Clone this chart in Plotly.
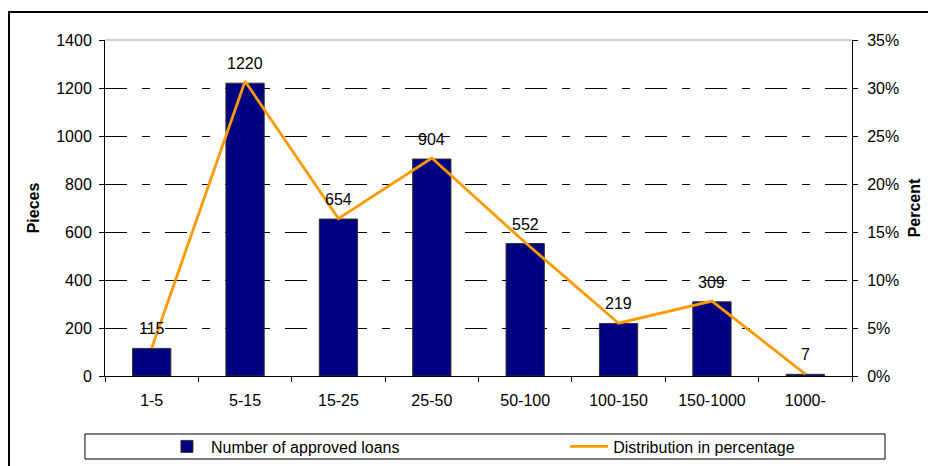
import plotly.graph_objects as go

# loan size classes and values
categories = ['1-5', '5-15', '15-25', '25-50', '50-100', '100-150', '150-1000', '1000-']
approved_loans = [115, 1220, 654, 904, 552, 219, 309, 7]
distribution_pct = [0.029, 0.307, 0.164, 0.227, 0.139, 0.055, 0.078, 0.002]

font_family = 'Liberation Sans, Arial, sans-serif'

fig = go.Figure()

fig.add_trace(go.Bar(x=categories,
                     y=approved_loans,
                     name='Number of approved loans',
                     marker=dict(color='#000080', line=dict(color='#333333', width=1)),
                     width=0.41,
                     yaxis='y',
                     legend='legend'))

fig.add_trace(go.Scatter(x=categories,
                         y=distribution_pct,
                         name='Distribution in percentage',
                         mode='lines',
                         line=dict(color='#FF9900', width=2.8),
                         yaxis='y2',
                         legend='legend2'))

# value labels above the bars
for cat, val in zip(categories, approved_loans):
    fig.add_annotation(x=cat, y=val, text=str(val), showarrow=False,
                       yanchor='bottom', yshift=9,
                       font=dict(family=font_family, size=16, color='black'))

# page has an 8px body margin, so the figure is a bit smaller than the window
fig.update_layout(
    width=928, height=458,
    margin=dict(l=97, r=84, t=32, b=90, autoexpand=False),
    paper_bgcolor='white',
    plot_bgcolor='white',
    font=dict(family=font_family, size=16, color='black'),
    showlegend=True,
    legend=dict(orientation='h', x=0.0776, xanchor='left', y=-0.2098, yanchor='middle',
                font=dict(size=16), itemwidth=38, bgcolor='rgba(0,0,0,0)'),
    legend2=dict(orientation='h', x=0.616, xanchor='left', y=-0.2098, yanchor='middle',
                 font=dict(size=16), itemwidth=38, bgcolor='rgba(0,0,0,0)'),
    xaxis=dict(showline=True, linecolor='black', linewidth=1, automargin=False,
               ticks='outside', tickson='boundaries', ticklen=5, tickcolor='black',
               ticklabelstandoff=10, showgrid=False),
    yaxis=dict(range=[0, 1400], dtick=200, showline=True, linecolor='black', linewidth=1,
               automargin=False,
               ticks='outside', ticklen=5, tickcolor='black', ticklabelstandoff=4,
               showgrid=True, gridcolor='black', gridwidth=1,
               griddash='22px,15px,8px,15px', zeroline=False,
               title=dict(text='<b>Pieces</b>', standoff=12, font=dict(size=16))),
    yaxis2=dict(range=[0, 0.35], dtick=0.05, tickformat='.0%', overlaying='y', side='right',
                showline=True, linecolor='black', linewidth=1, automargin=False,
                ticks='outside', ticklen=5, tickcolor='black', ticklabelstandoff=6,
                showgrid=False, zeroline=False,
                title=dict(text='<b>Percent</b>', standoff=10, font=dict(size=16))),
    bargap=0.59,
)

# gray top edge of plot area, legend box and outer chart border
fig.add_shape(type='line', xref='paper', yref='paper', x0=0, x1=1, y0=1, y1=1,
              line=dict(color='#999999', width=1))
fig.add_shape(type='rect', xref='paper', yref='paper',
              x0=-0.0268, x1=1.0442, y0=-0.1726, y1=-0.247,
              line=dict(color='black', width=1))
fig.add_shape(type='rect', xref='paper', yref='paper',
              x0=-0.1285, x1=1.12, y0=1.0833, y1=-0.29,
              line=dict(color='black', width=2))

fig.write_html("out.html")
